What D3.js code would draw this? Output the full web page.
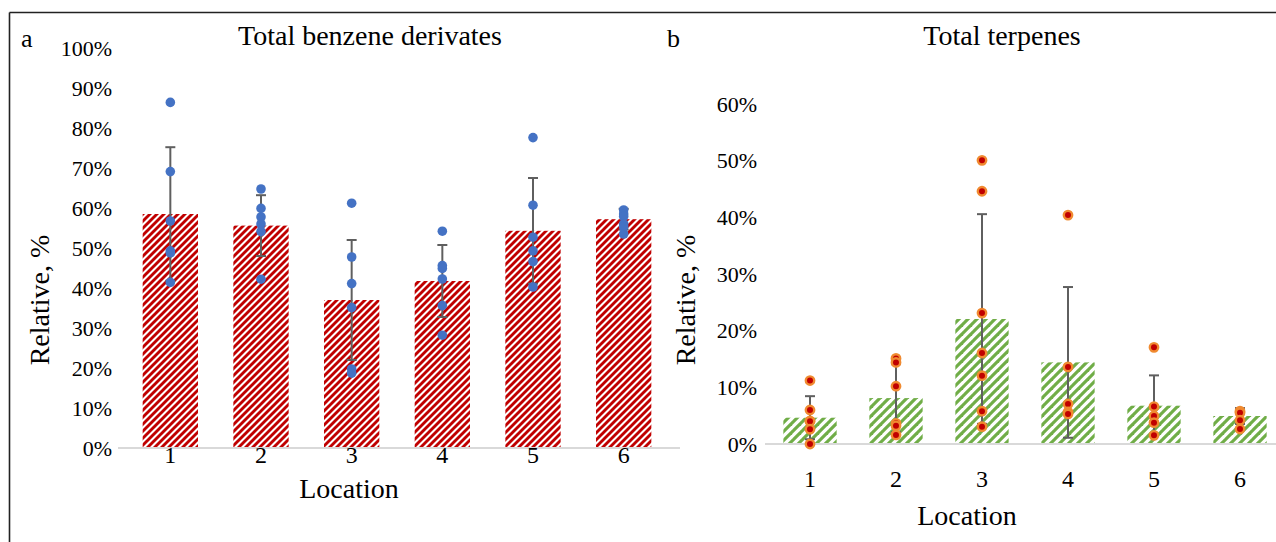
<!DOCTYPE html>
<html><head><meta charset="utf-8">
<script src="https://cdn.jsdelivr.net/npm/d3@7"></script>
<style>html,body{margin:0;padding:0;background:#fff;}svg{display:block;}</style>
</head><body>
<svg id="chart" width="1276" height="542"></svg>
<script>
const categories = ["1","2","3","4","5","6"];
// Panel a: Total benzene derivates
const benzeneMeans = [0.585, 0.556, 0.370, 0.4175, 0.543, 0.572];
const benzeneSD    = [0.167, 0.076, 0.150, 0.090, 0.132, 0.026];
const benzenePoints = [
  [0.864, 0.691, 0.5675, 0.493, 0.488, 0.414],
  [0.6475, 0.599, 0.5775, 0.560, 0.541, 0.422],
  [0.612, 0.4775, 0.411, 0.351, 0.1975, 0.187],
  [0.542, 0.456, 0.449, 0.4225, 0.356, 0.282],
  [0.776, 0.607, 0.527, 0.493, 0.466, 0.4025],
  [0.595, 0.585, 0.579, 0.560, 0.553, 0.535]
];
const benzeneTicks = [0,0.1,0.2,0.3,0.4,0.5,0.6,0.7,0.8,0.9,1.0];
// Panel b: Total terpenes
const terpeneMeans = [0.0464, 0.081, 0.2206, 0.144, 0.0676, 0.0494];
const terpeneSD    = [0.038, 0.060, 0.185, 0.133, 0.0535, 0.014];
const terpenePoints = [
  [0.112, 0.060, 0.0406, 0.040, 0.026, 0.0],
  [0.151, 0.144, 0.102, 0.0365, 0.032, 0.016],
  [0.5006, 0.446, 0.231, 0.1606, 0.1206, 0.058, 0.0306],
  [0.404, 0.136, 0.0706, 0.0565, 0.053],
  [0.1706, 0.066, 0.0494, 0.0376, 0.0153],
  [0.058, 0.055, 0.042, 0.0265]
];
const terpeneTicks = [0,0.1,0.2,0.3,0.4,0.5,0.6];

const svg = d3.select("#chart");
const FONT = "'Liberation Serif', 'Times New Roman', serif";

// border (top and left only, figure cropped)
svg.append("line").attr("x1",9.5).attr("x2",1276).attr("y1",12.5).attr("y2",12.5).attr("stroke","#222").attr("stroke-width",1.6);
svg.append("line").attr("x1",9.5).attr("x2",9.5).attr("y1",12.5).attr("y2",542).attr("stroke","#222").attr("stroke-width",1.6);

const defs = svg.append("defs");
function hatch(id, color, size, frac){
  const p = defs.append("pattern").attr("id",id).attr("patternUnits","userSpaceOnUse")
    .attr("width",size).attr("height",size);
  p.append("rect").attr("width",size).attr("height",size).attr("fill","#fff");
  const w = size*frac;
  [-size,0,size].forEach(o=>{
    p.append("path").attr("d",`M${o},${size} L${o+size},0`).attr("stroke",color).attr("stroke-width",w/Math.SQRT2).attr("stroke-linecap","square");
  });
  return `url(#${id})`;
}
const redFill = hatch("redHatch","#C00000",7,0.58);
const greenFill = hatch("greenHatch","#70AD47",9,0.5);

const fmt = d3.format(".0%");

function panel(cfg){
  const g = svg.append("g");
  const x = d3.scaleBand().domain(categories).range(cfg.xr).paddingInner(cfg.pad).paddingOuter(cfg.pad/2);
  const y = d3.scaleLinear().domain(cfg.yd).range(cfg.yr);
  g.selectAll("rect.bar").data(cfg.means).join("rect").attr("class","bar")
    .attr("x",(d,i)=>x(categories[i])).attr("width",x.bandwidth())
    .attr("y",d=>y(d)).attr("height",d=>y(0)-y(d)).attr("fill",cfg.fill);
  g.append("line").attr("x1",cfg.axisX[0]).attr("x2",cfg.axisX[1]).attr("y1",y(0)).attr("y2",y(0))
    .attr("stroke","#D9D9D9").attr("stroke-width",2);
  const ya = d3.axisLeft(y).tickValues(cfg.ticks).tickFormat(fmt).tickSize(0).tickPadding(0);
  const yg = g.append("g").attr("transform",`translate(${cfg.yLabelX},0)`).call(ya);
  yg.select(".domain").remove();
  yg.selectAll("text").attr("font-family",FONT).attr("font-size",22).attr("fill","#000").attr("dy","0.33em");
  const xa = d3.axisBottom(x).tickSize(0).tickPadding(0);
  const xg = g.append("g").attr("transform",`translate(0,${cfg.xLabelY})`).call(xa);
  xg.select(".domain").remove();
  xg.selectAll("text").attr("font-family",FONT).attr("font-size",24).attr("fill","#000").attr("dy","0.33em");
  const eb = g.selectAll("g.err").data(cfg.means).join("g").attr("class","err");
  eb.append("line").attr("x1",(d,i)=>x(categories[i])+x.bandwidth()/2).attr("x2",(d,i)=>x(categories[i])+x.bandwidth()/2)
    .attr("y1",(d,i)=>y(d+cfg.sd[i])).attr("y2",(d,i)=>y(Math.max(0,d-cfg.sd[i])))
    .attr("stroke","#5F5F5F").attr("stroke-width",2);
  [1,-1].forEach(s=>{
    eb.append("line").attr("x1",(d,i)=>x(categories[i])+x.bandwidth()/2-5).attr("x2",(d,i)=>x(categories[i])+x.bandwidth()/2+5)
      .attr("y1",(d,i)=>y(Math.max(0,d+s*cfg.sd[i]))).attr("y2",(d,i)=>y(Math.max(0,d+s*cfg.sd[i])))
      .attr("stroke","#5F5F5F").attr("stroke-width",2);
  });
  const pts = [];
  cfg.points.forEach((arr,i)=>arr.forEach(v=>pts.push({c:categories[i],v})));
  g.selectAll("circle.pt").data(pts).join("circle").attr("class","pt")
    .attr("cx",d=>x(d.c)+x.bandwidth()/2).attr("cy",d=>y(d.v))
    .attr("r",cfg.dotR).attr("fill",cfg.dotFill).attr("stroke",cfg.dotStroke||"none").attr("stroke-width",cfg.dotSW||0);
  g.append("text").attr("x",cfg.titleX).attr("y",45).attr("text-anchor","middle")
    .attr("font-family",FONT).attr("font-size",28).text(cfg.title);
  g.append("text").attr("x",cfg.letterX).attr("y",47).attr("font-family",FONT).attr("font-size",26).text(cfg.letter);
  g.append("text").attr("transform",`translate(${cfg.ylabX},${cfg.ylabY}) rotate(-90)`).attr("text-anchor","middle")
    .attr("font-family",FONT).attr("font-size",28).text("Relative, %");
  g.append("text").attr("x",cfg.xlabX).attr("y",cfg.xlabY).attr("text-anchor","middle")
    .attr("font-family",FONT).attr("font-size",28).text("Location");
}

panel({
  xr:[125,669], pad:0.39, yd:[0,1], yr:[448,48], fill:redFill, axisX:[118,680],
  ticks:benzeneTicks, yLabelX:112, xLabelY:455, means:benzeneMeans, sd:benzeneSD, points:benzenePoints,
  dotR:4.8, dotFill:"#4472C4", title:"Total benzene derivates", titleX:370, letter:"a", letterX:21,
  ylabX:49, ylabY:300, xlabX:349, xlabY:498
});
panel({
  xr:[767,1283], pad:0.38, yd:[0,0.6], yr:[444,104], fill:greenFill, axisX:[765,1276],
  ticks:terpeneTicks, yLabelX:757, xLabelY:479, means:terpeneMeans, sd:terpeneSD, points:terpenePoints,
  dotR:4.2, dotFill:"#C00000", dotStroke:"#F08A30", dotSW:2.4, title:"Total terpenes", titleX:1002, letter:"b", letterX:667,
  ylabX:695, ylabY:300, xlabX:967, xlabY:525
});
</script>
</body></html>
